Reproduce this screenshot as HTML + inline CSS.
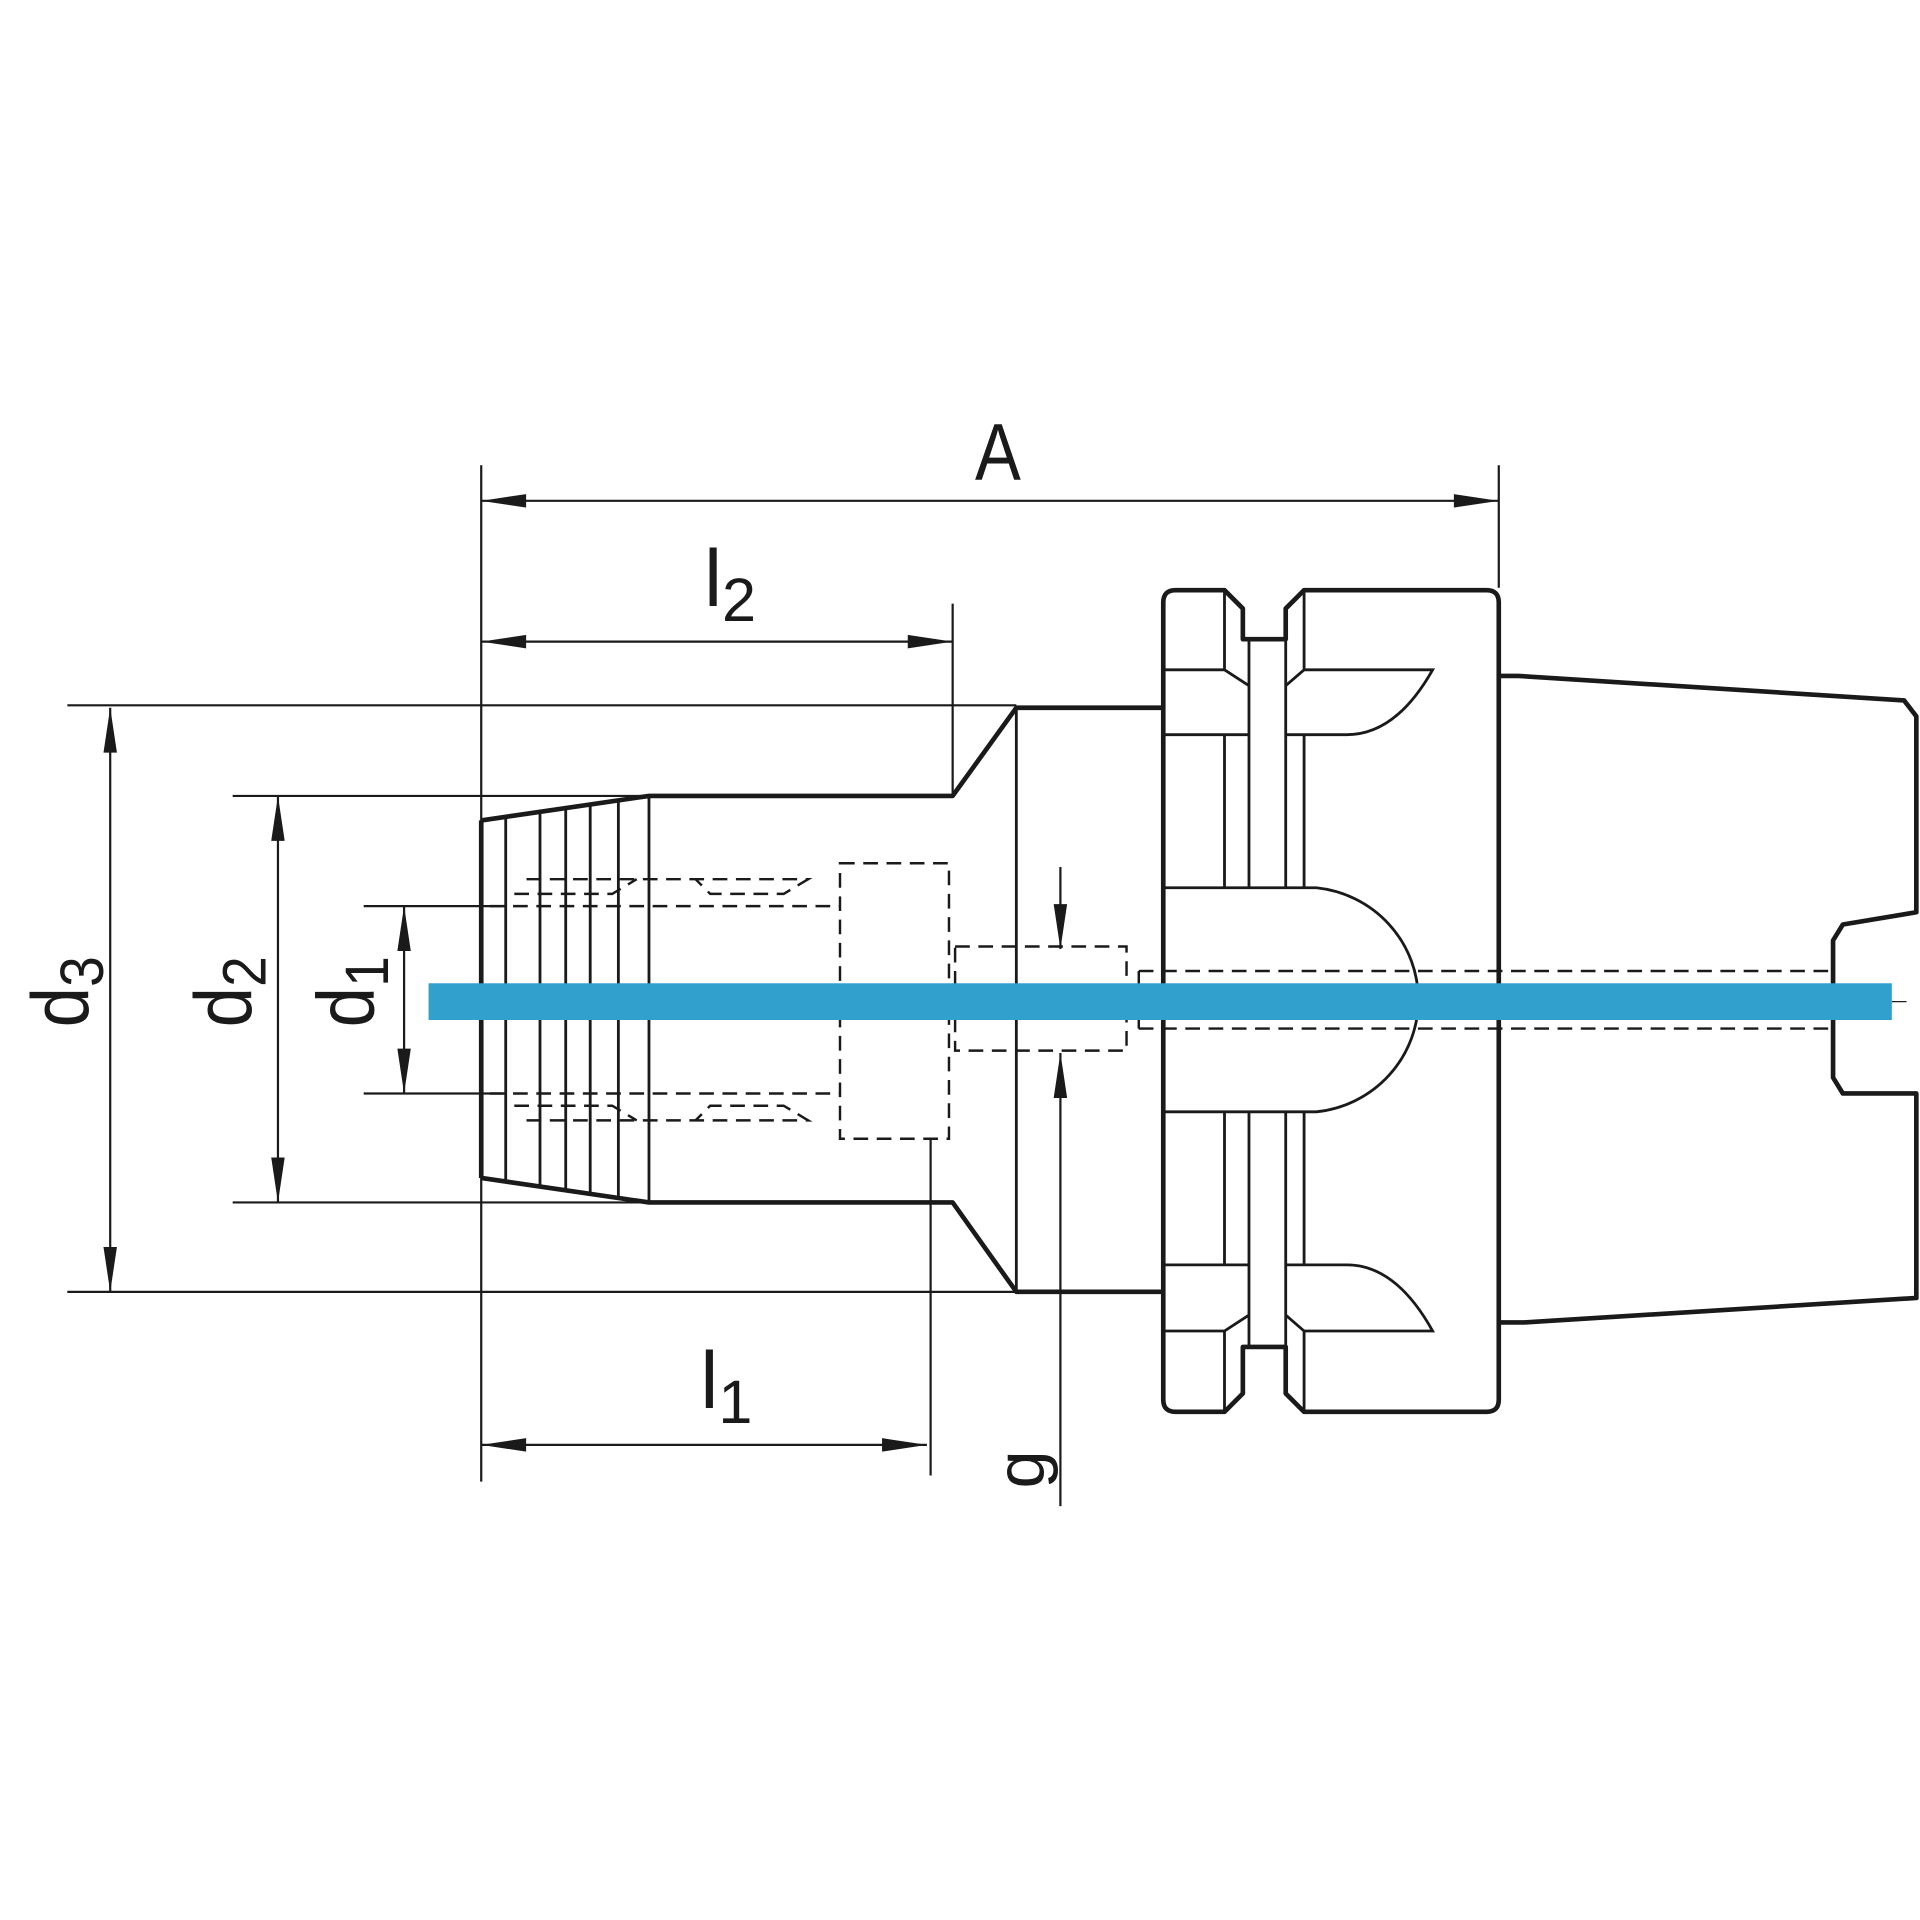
<!DOCTYPE html>
<html><head><meta charset="utf-8"><style>html,body{margin:0;padding:0;background:#fff}svg{display:block}</style></head><body>
<svg width="1920" height="1920" viewBox="0 0 1568 1568" xmlns="http://www.w3.org/2000/svg">
<defs>
<marker id="ar" viewBox="0 0 40 12" refX="40" refY="6" markerWidth="40" markerHeight="11" markerUnits="userSpaceOnUse" orient="auto-start-reverse"><path d="M0,0 L40,6 L0,12 z" fill="#1a1a1a"/></marker>
</defs>
<g stroke="#1a1a1a" fill="none" stroke-width="1.8">
<line x1="393" y1="380" x2="393" y2="1210"/>
<line x1="1224" y1="380" x2="1224" y2="480"/>
<line x1="778" y1="493" x2="778" y2="650"/>
<line x1="55" y1="576" x2="830" y2="576"/>
<line x1="55" y1="1055" x2="830" y2="1055"/>
<line x1="190" y1="650" x2="530" y2="650"/>
<line x1="190" y1="982" x2="530" y2="982"/>
<line x1="297" y1="740" x2="410" y2="740"/>
<line x1="297" y1="893" x2="410" y2="893"/>
<line x1="760" y1="930" x2="760" y2="1205"/>
<line x1="866" y1="708" x2="866" y2="775" marker-end="url(#ar)"/>
<line x1="866" y1="1230" x2="866" y2="860" marker-end="url(#ar)"/>
<line x1="393" y1="409" x2="1224" y2="409" marker-start="url(#ar)" marker-end="url(#ar)"/>
<line x1="393" y1="524" x2="778" y2="524" marker-start="url(#ar)" marker-end="url(#ar)"/>
<line x1="90" y1="578" x2="90" y2="1055" marker-start="url(#ar)" marker-end="url(#ar)"/>
<line x1="227" y1="650" x2="227" y2="982" marker-start="url(#ar)" marker-end="url(#ar)"/>
<line x1="330" y1="740" x2="330" y2="893" marker-start="url(#ar)" marker-end="url(#ar)"/>
<line x1="393" y1="1180" x2="757" y2="1180" marker-start="url(#ar)" marker-end="url(#ar)"/>
</g>
<g stroke="#1a1a1a" fill="none" stroke-width="3.8" stroke-linejoin="round">
<path d="M393,670 L530,650 L778,650 L830,578 L950,578 M393,962 L530,982 L778,982 L830,1055 L950,1055 M393,670 L393,962"/>
<path d="M950,492 Q950,482 960,482 L1000,482 L1015,497 L1015,522 L1050,522 L1050,497 L1065,482 L1214,482 Q1224,482 1224,492 L1224,1143 Q1224,1153 1214,1153 L1065,1153 L1050,1138 L1050,1100 L1015,1100 L1015,1138 L1000,1153 L960,1153 Q950,1153 950,1143 Z"/>
<path d="M1224,552 L1240,552 L1555,572 L1565,585 L1565,745 L1505,755 L1497,768 L1497,880 L1505,893 L1565,893 L1565,1060 L1245,1080 L1224,1080"/>
</g>
<g stroke="#1a1a1a" fill="none" stroke-width="2.3">
<line x1="413" y1="666" x2="413" y2="966"/>
<line x1="441" y1="662" x2="441" y2="970"/>
<line x1="462" y1="659" x2="462" y2="973"/>
<line x1="482" y1="656" x2="482" y2="976"/>
<line x1="505" y1="653" x2="505" y2="979"/>
<line x1="530" y1="650" x2="530" y2="982"/>
<line x1="830" y1="578" x2="830" y2="1055"/>
<path d="M950,600 L1020,600 M950,547 L1000,547 L1020,560 M1000,482 L1000,547 M1000,600 L1000,725 M1020,522 L1020,725 M1050,522 L1050,725 M1065,482 L1065,547 M1050,560 L1065,547 L1170,547 Q1140,600 1100,600 L1050,600 M1065,600 L1065,725"/>
<path d="M950,1033 L1020,1033 M950,1087 L1000,1087 L1020,1074 M1000,1153 L1000,1087 M1000,1033 L1000,908 M1020,1100 L1020,908 M1050,1100 L1050,908 M1065,1153 L1065,1087 M1050,1074 L1065,1087 L1170,1087 Q1140,1033 1100,1033 L1050,1033 M1065,1033 L1065,908"/>
<path d="M950,725 L1075,725 A93,92 0 0 1 1075,908 L950,908"/>
</g>
<g stroke="#1a1a1a" fill="none" stroke-width="2" stroke-dasharray="12,7">
<rect x="686" y="705" width="89" height="225"/>
<rect x="780" y="773" width="140" height="85"/>
<line x1="400" y1="740" x2="686" y2="740"/>
<line x1="400" y1="893" x2="686" y2="893"/>
<path d="M430,718 L660,718 L640,730 L580,730 L568,718 M420,730 L500,730 L520,718"/>
<path d="M430,915 L660,915 L640,903 L580,903 L568,915 M420,903 L500,903 L520,915"/>
<line x1="930" y1="793" x2="1500" y2="793"/>
<line x1="930" y1="840" x2="1500" y2="840"/>
<line x1="930" y1="793" x2="930" y2="840"/>
<line x1="1545" y1="818" x2="1560" y2="818" stroke-width="1"/>
</g>
<rect x="350" y="803" width="1195" height="30" fill="#31a0cc"/>
<g font-family="Liberation Sans, sans-serif" fill="#1a1a1a" font-size="66">
<text x="815" y="392" text-anchor="middle" transform="translate(815,0) scale(0.85,1) translate(-815,0)">A</text>
<text x="575" y="495">l<tspan font-size="50" dy="12">2</tspan></text>
<text x="572" y="1150">l<tspan font-size="50" dy="12">1</tspan></text>
<text transform="translate(72,810) rotate(-90) scale(0.9,1)" text-anchor="middle">d<tspan font-size="50" dy="12">3</tspan></text>
<text transform="translate(205,810) rotate(-90) scale(0.9,1)" text-anchor="middle">d<tspan font-size="50" dy="12">2</tspan></text>
<text transform="translate(305,810) rotate(-90) scale(0.9,1)" text-anchor="middle">d<tspan font-size="50" dy="12">1</tspan></text>
<text transform="translate(852,1200) rotate(-90)" text-anchor="middle" font-size="56">g</text>
</g>
</svg>
</body></html>
